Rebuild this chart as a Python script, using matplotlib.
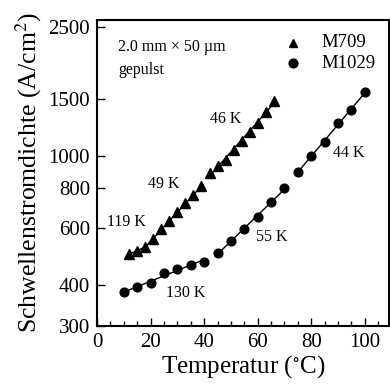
import numpy as np
import matplotlib
matplotlib.use("Agg")
import matplotlib.pyplot as plt
from matplotlib.ticker import FixedLocator, NullLocator, MultipleLocator

plt.rcParams["font.family"] = ["Liberation Serif", "DejaVu Serif"]
plt.rcParams["mathtext.fontset"] = "stix"

# M709 (triangles)
t_m709 = [12, 15, 18, 21, 24, 27, 30, 33, 36, 39, 42, 45, 48, 51, 54, 57, 60, 63, 66]
j_m709 = [501, 511, 526, 558, 596, 630, 675, 716, 758, 812, 888, 930, 972, 1048, 1112, 1185, 1270, 1366, 1481]
# M1029 (circles)
t_m1029 = [10, 15, 20, 25, 30, 35, 40, 45, 50, 55, 60, 65, 70, 75, 80, 85, 90, 95, 100]
j_m1029 = [381, 395, 407, 436, 450, 464, 474, 505, 547, 595, 651, 721, 800, 894, 1005, 1107, 1263, 1385, 1576]

# exponential fit ranges (index slices)
fits_m709 = [(0, 3), (2, 10), (10, 19)]
fits_m1029 = [(0, 7), (7, 13), (13, 19)]

yticks = [300, 400, 600, 800, 1000, 1500, 2500]

fig = plt.figure(figsize=(3.9, 3.9), dpi=100)
ax = fig.add_axes([0.249, 0.164, 0.748, 0.785])

def draw_fits(t, j, segs):
    t = np.asarray(t, float)
    j = np.asarray(j, float)
    for a, b in segs:
        k, c = np.polyfit(t[a:b], np.log(j[a:b]), 1)
        xs = np.array([t[a] - 0.5, t[b - 1] + 0.5])
        ax.plot(xs, np.exp(c + k * xs), color="black", lw=1.0, zorder=2)

draw_fits(t_m709, j_m709, fits_m709)
draw_fits(t_m1029, j_m1029, fits_m1029)

ax.plot(t_m709, j_m709, linestyle="none", marker="^", ms=6.5, color="black", zorder=3)
ax.plot(t_m1029, j_m1029, linestyle="none", marker="o", ms=6.3, color="black", zorder=3)

ax.set_yscale("log")
ax.set_xlim(0, 109)
ax.set_ylim(300, 2630)
ax.yaxis.set_major_locator(FixedLocator(yticks))
ax.yaxis.set_minor_locator(NullLocator())
ax.set_yticklabels([str(v) for v in yticks])
ax.xaxis.set_major_locator(MultipleLocator(20))
ax.xaxis.set_minor_locator(MultipleLocator(5))

for s in ax.spines.values():
    s.set_linewidth(1.5)
ax.tick_params(axis="both", which="major", direction="in", length=6, width=1.0,
               labelsize=15, pad=5)
ax.tick_params(axis="y", which="major", pad=5)
ax.tick_params(axis="x", which="minor", direction="in", length=3.5, width=1.0)

ax.set_xlabel(r"Temperatur ($^{\circ}$C)", fontsize=18, labelpad=1)
ax.set_ylabel(r"Schwellenstromdichte (A/cm$^2$)", fontsize=18.5, labelpad=3)

# characteristic temperatures
labels = [("119 K", 3.7, 627), ("49 K", 19.0, 822), ("46 K", 42.2, 1306),
          ("44 K", 88.1, 1020), ("55 K", 59.3, 566), ("130 K", 25.7, 379)]
for txt, x, y in labels:
    ax.text(x, y, txt, fontsize=11.5, ha="left", va="center")

ax.text(0.072, 0.912, "2.0 mm \u00d7 50 \u00b5m", transform=ax.transAxes,
        fontsize=11.5, ha="left", va="center")
ax.text(0.072, 0.837, "gepulst", transform=ax.transAxes,
        fontsize=11.5, ha="left", va="center")

# legend
ax.plot([0.671], [0.925], marker="^", ms=6, color="black", transform=ax.transAxes)
ax.plot([0.671], [0.859], marker="o", ms=6.3, color="black", transform=ax.transAxes)
ax.text(0.77, 0.925, "M709", transform=ax.transAxes, fontsize=13.5, ha="left", va="center")
ax.text(0.77, 0.859, "M1029", transform=ax.transAxes, fontsize=13.5, ha="left", va="center")

fig.savefig("out.png", dpi=100)
